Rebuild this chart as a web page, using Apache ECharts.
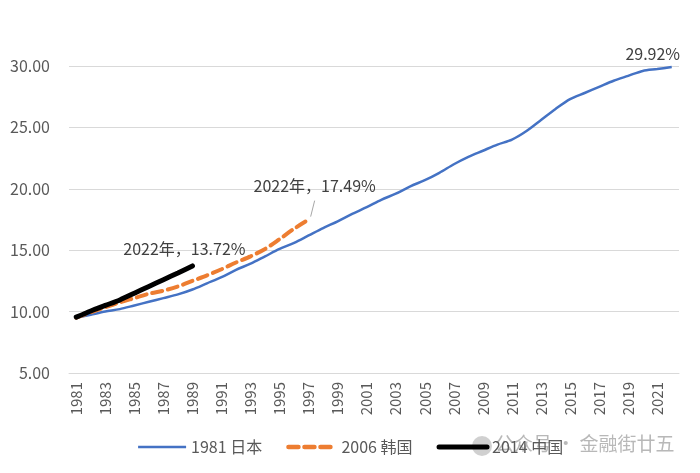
<!DOCTYPE html>
<html><head><meta charset="utf-8">
<script src="https://cdn.jsdelivr.net/npm/echarts@6/dist/echarts.min.js"></script>
<style>html,body{margin:0;padding:0;background:#fff}#c{width:700px;height:473px}</style>
</head><body><div id="c"></div>
<script>
const years = [];
for (let y = 1981; y <= 2022; y++) years.push(String(y));
const japan = [9.5,9.75,10.0,10.2,10.5,10.8,11.1,11.4,11.8,12.3,12.8,13.4,13.9,14.5,15.1,15.6,16.2,16.8,17.35,17.95,18.5,19.1,19.6,20.2,20.7,21.3,22.0,22.6,23.1,23.6,24.0,24.7,25.6,26.5,27.3,27.8,28.3,28.8,29.2,29.6,29.75,29.92];
const korea = [9.5,9.95,10.35,10.75,11.1,11.45,11.7,12.05,12.5,12.95,13.45,14.0,14.5,15.1,15.9,16.75,17.49];
const china = [9.55,10.05,10.5,10.95,11.5,12.05,12.6,13.15,13.72];
const names = ['1981 日本','2006 韩国','2014 中国'];
const labels = ['29.92%','2022年，17.49%','2022年，13.72%'];
const yTicks = {min:5, max:30, interval:5};

const font = 'Noto Sans CJK SC';
function endMark(arr, text, offset) {
  return {
    symbol:'circle', symbolSize:0, silent:true,
    label:{show:true, position:'inside', formatter:text, offset:offset, color:'#404040', fontSize:16, fontFamily:font},
    data:[{coord:[arr.length-1, arr[arr.length-1]]}]
  };
}
const chart = echarts.init(document.getElementById('c'));
chart.setOption({
  animation:false,
  textStyle:{fontFamily:font},
  grid:{left:69, right:21, top:66, bottom:100},
  xAxis:{type:'category', data:years, boundaryGap:true,
    axisLine:{lineStyle:{color:'#d9d9d9'}},
    axisTick:{interval:1, length:5, lineStyle:{color:'#d9d9d9'}},
    axisLabel:{interval:1, rotate:90, color:'#595959', fontSize:15, margin:9, fontFamily:font}},
  yAxis:{type:'value', min:yTicks.min, max:yTicks.max, interval:yTicks.interval,
    axisLine:{show:false}, axisTick:{show:false},
    axisLabel:{formatter:v=>v.toFixed(2), color:'#595959', fontSize:16, margin:19, fontFamily:font},
    splitLine:{lineStyle:{color:'#d9d9d9', width:1}}},
  legend:{bottom:13, left:'center', itemWidth:48, itemHeight:14, itemGap:24,
    textStyle:{color:'#595959', fontSize:16, fontFamily:font},
    itemStyle:{opacity:0},
    data:[
      {name:names[0], lineStyle:{width:2.5, color:'#4472C4'}},
      {name:names[1], lineStyle:{width:4.5, color:'#ED7D31', type:[10,6], cap:'round'}},
      {name:names[2], lineStyle:{width:5, color:'#000000', cap:'round'}}
    ]},
  series:[
    {name:names[0], type:'line', symbol:'none', smooth:0.3, data:japan,
      markPoint:endMark(japan, labels[0], [-19,-13]),
      lineStyle:{color:'#4472C4', width:2.5}, itemStyle:{color:'#4472C4'}},
    {name:names[1], type:'line', symbol:'none', smooth:0.3, data:korea,
      markPoint:endMark(korea, labels[1], [6,-34]),
      lineStyle:{color:'#ED7D31', width:4, type:[10,6], cap:'round'}, itemStyle:{color:'#ED7D31'}},
    {name:names[2], type:'line', symbol:'none', smooth:0.3, data:china,
      markPoint:endMark(china, labels[2], [-8,-17]),
      lineStyle:{color:'#000000', width:5, cap:'round'}, itemStyle:{color:'#000000'}}
  ]
});
const p = chart.convertToPixel({seriesIndex:1}, [korea.length-1, korea[korea.length-1]]);
chart.setOption({
  graphic:[
    {type:'line', shape:{x1:p[0]+2, y1:p[1]-3, x2:p[0]+6, y2:p[1]-19}, style:{stroke:'#a6a6a6', lineWidth:1}},
    {type:'circle', left:472, top:436, shape:{r:10}, style:{fill:'rgba(170,170,170,0.55)'}},
    {type:'text', left:495, top:434, style:{text:'公众号 · 金融街廿五', fill:'rgba(160,160,160,0.75)', font:'19px "Noto Sans CJK SC"'}}
  ]
});
</script></body></html>
